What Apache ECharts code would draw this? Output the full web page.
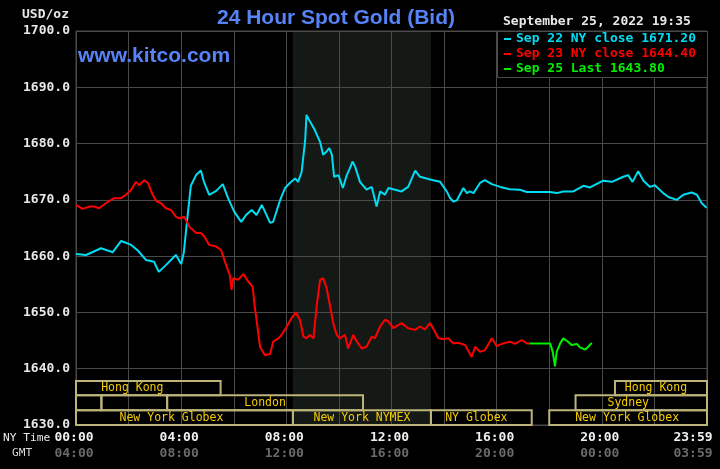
<!DOCTYPE html>
<html><head><meta charset="utf-8">
<script src="https://cdn.jsdelivr.net/npm/echarts@6/dist/echarts.min.js"></script>
<style>html,body{margin:0;padding:0;background:#000;}#c{width:720px;height:469px;}</style>
</head><body><div id="c"></div>
<script>
// ---------- DATA ----------
const seriesNames = ['Sep 22 NY close 1671.20', 'Sep 23 NY close 1644.40', 'Sep 25 Last 1643.80'];
// [minutes after 00:00 NY time, price]
const sep22Data = [[0,1660.4],[23,1660.2],[57,1661.4],[84,1660.7],[103,1662.7],[126,1662.0],[141,1661.0],[160,1659.3],[178,1659.0],[189,1657.2],[205,1658.4],[228,1660.2],[240,1658.6],[246,1660.6],[253,1665.9],[262,1672.5],[274,1674.4],[285,1675.2],[292,1673.2],[304,1670.9],[320,1671.6],[335,1672.8],[347,1670.3],[361,1667.9],[377,1666.1],[388,1667.3],[401,1668.2],[412,1667.3],[424,1669.1],[443,1665.9],[450,1666.1],[466,1670.0],[477,1672.1],[488,1673.0],[500,1673.8],[507,1673.2],[515,1675.0],[523,1680.6],[526,1685.1],[534,1683.9],[538,1684.2],[545,1682.4],[557,1680.3],[564,1678.0],[572,1678.6],[578,1679.2],[584,1678.0],[589,1674.1],[599,1674.4],[609,1672.1],[618,1674.4],[625,1675.6],[631,1676.8],[637,1675.9],[648,1673.2],[663,1671.8],[675,1672.3],[686,1668.8],[694,1671.5],[705,1670.9],[713,1672.1],[728,1671.8],[743,1671.5],[758,1672.3],[774,1675.2],[785,1674.1],[800,1673.8],[815,1673.5],[831,1673.2],[846,1671.5],[854,1670.3],[861,1669.7],[869,1669.9],[884,1672.1],[892,1671.2],[899,1671.5],[907,1671.2],[922,1673.0],[933,1673.5],[949,1672.8],[968,1672.3],[990,1671.9],[1013,1671.8],[1029,1671.4],[1082,1671.4],[1097,1671.2],[1112,1671.5],[1135,1671.5],[1158,1672.5],[1173,1672.2],[1203,1673.4],[1223,1673.2],[1249,1674.1],[1260,1674.4],[1270,1673.2],[1283,1675.1],[1295,1673.4],[1310,1672.3],[1321,1672.6],[1340,1671.2],[1352,1670.5],[1371,1670.0],[1386,1670.9],[1405,1671.3],[1417,1670.9],[1428,1669.4],[1439,1668.6]];
const sep23Data = [[0,1669.1],[15,1668.4],[30,1668.8],[42,1668.8],[53,1668.5],[68,1669.4],[87,1670.3],[103,1670.3],[114,1670.9],[126,1671.8],[137,1673.2],[144,1672.6],[156,1673.5],[164,1673.0],[175,1670.9],[183,1669.8],[194,1669.4],[205,1668.5],[217,1668.2],[228,1667.0],[236,1666.7],[247,1667.0],[259,1665.2],[274,1664.1],[285,1664.1],[293,1663.5],[304,1662.0],[320,1661.7],[331,1661.1],[344,1658.1],[351,1656.6],[355,1654.0],[359,1656.1],[370,1655.8],[382,1656.8],[393,1655.5],[403,1654.6],[408,1651.0],[414,1647.5],[420,1643.9],[431,1642.4],[443,1642.6],[450,1644.8],[462,1645.4],[469,1646.0],[481,1647.5],[492,1649.0],[502,1650.0],[511,1648.7],[519,1645.7],[526,1645.4],[534,1646.0],[542,1645.4],[549,1651.0],[557,1655.8],[564,1656.1],[572,1654.3],[580,1651.0],[587,1648.1],[595,1646.0],[602,1645.4],[614,1646.0],[621,1643.6],[633,1646.0],[641,1644.8],[652,1643.6],[663,1643.9],[675,1645.7],[682,1645.4],[694,1647.5],[705,1648.7],[713,1648.4],[724,1647.2],[743,1648.1],[758,1647.2],[774,1646.9],[785,1647.5],[796,1647.0],[808,1648.1],[815,1647.2],[827,1645.4],[838,1645.3],[850,1645.4],[861,1644.5],[872,1644.6],[888,1644.2],[903,1642.1],[911,1643.9],[922,1643.0],[933,1643.3],[949,1645.4],[960,1644.0],[975,1644.5],[990,1644.8],[1002,1644.4],[1017,1645.1],[1029,1644.5],[1035,1644.5]];
const sep25Data = [[1035,1644.5],[1082,1644.5],[1088,1643.0],[1093,1640.4],[1097,1643.0],[1105,1644.5],[1112,1645.4],[1123,1644.8],[1131,1644.2],[1143,1644.4],[1150,1643.8],[1162,1643.4],[1169,1643.9],[1177,1644.6]];

const tickMinutes = [0, 240, 480, 720, 960, 1200, 1440];
const nyTickLabels = ['00:00', '04:00', '08:00', '12:00', '16:00', '20:00', '23:59'];
const gmtTickLabels = ['04:00', '08:00', '12:00', '16:00', '20:00', '00:00', '03:59'];

// trading sessions (minutes, NY time); row 0 = top band
const sessionLabels = ['Hong Kong', 'Hong Kong', '', '', 'London', 'Sydney', 'New York Globex', 'New York NYMEX', 'NY Globex', 'New York Globex'];
const sessionRow    = [0, 0, 1, 1, 1, 1, 2, 2, 2, 2];
const sessionFrom   = [0, 1230, 0, 58, 208, 1140, 0, 495, 810, 1080];
const sessionTo     = [330, 1440, 58, 208, 655, 1440, 495, 810, 1040, 1440];
const rowTop    = [1637.8, 1635.3, 1632.6];
const rowBottom = [1635.3, 1632.6, 1630.0];
const pitFrom = 495, pitTo = 810; // NYMEX pit hours shading

const dateText = 'September 25, 2022 19:35';

// ---------- STYLE ----------
const colors = ['#00dcf2', '#ff0000', '#00f000'];
const labelDx = [-16, -5, 0, 0, 0, -13, -13, 0, -5, -1];
const mono = '"DejaVu Sans Mono", monospace';
const gridColor = '#4a4a4a';

const chart = echarts.init(document.getElementById('c'), null, {renderer: 'canvas'});

const sessionAreas = sessionLabels.map((lab, i) => [
  {xAxis: sessionFrom[i], yAxis: rowTop[sessionRow[i]], name: lab,
   label: {offset: [labelDx[i], 0]}},
  {xAxis: sessionTo[i], yAxis: rowBottom[sessionRow[i]]}
]);

const seriesData = [sep22Data, sep23Data, sep25Data];
const series = seriesData.map((d, i) => ({
  name: seriesNames[i], type: 'line', data: d, showSymbol: false, z: 4,
  animation: false, silent: true,
  lineStyle: {color: colors[i], width: 2},
  itemStyle: {color: colors[i]}
}));
series.push({
  name: 'pit', type: 'line', data: [], z: 1, silent: true, animation: false,
  markArea: {z: 1, silent: true, itemStyle: {color: '#151915', borderWidth: 0},
    label: {show: false}, data: [[{xAxis: pitFrom}, {xAxis: pitTo}]]}
});
series.push({
  name: 'sessions', type: 'line', data: [], z: 3, silent: true, animation: false,
  markArea: {z: 3, silent: true,
    itemStyle: {color: 'rgba(0,0,0,0)', borderColor: '#bdb47a', borderWidth: 2},
    label: {show: true, position: 'inside', color: '#f5cc00', fontFamily: mono, fontSize: 11.5},
    emphasis: {disabled: true},
    data: sessionAreas}
});

chart.setOption({
  backgroundColor: '#000',
  animation: false,
  grid: {left: 76, right: 13, top: 31, bottom: 44, show: true, borderColor: gridColor, borderWidth: 1,
         containLabel: false, outerBoundsMode: 'none'},
  legend: {
    data: seriesNames.map((n, i) => ({name: n, textStyle: {color: colors[i]}})),
    orient: 'vertical', left: 504, top: 32, padding: 0, itemGap: 1,
    icon: 'rect', itemWidth: 7, itemHeight: 2, selectedMode: false, z: 10,
    textStyle: {fontFamily: mono, fontSize: 13, fontWeight: 'bold', lineHeight: 14, padding: 0}
  },
  xAxis: {
    type: 'value', min: 0, max: 1440, interval: 120, z: 2,
    axisLine: {show: false}, axisTick: {show: false},
    splitLine: {show: true, lineStyle: {color: gridColor, width: 1}},
    axisLabel: {
      margin: 5, showMinLabel: true, showMaxLabel: true, hideOverlap: false,
      formatter: function (v) {
        const i = tickMinutes.indexOf(v);
        if (i < 0) return '';
        if (i === tickMinutes.length - 1) return '{nyL|' + nyTickLabels[i] + '}\n{gmtL|' + gmtTickLabels[i] + '}';
        return '{ny|' + nyTickLabels[i] + '}\n{gmt|' + gmtTickLabels[i] + '}';
      },
      rich: {
        ny: {color: '#f0f0f0', fontFamily: mono, fontSize: 13, fontWeight: 'bold', lineHeight: 16, padding: [0, 4, 0, 0]},
        gmt: {color: '#6a6a6a', fontFamily: mono, fontSize: 13, fontWeight: 'bold', lineHeight: 16, padding: [0, 4, 0, 0]},
        nyL: {color: '#f0f0f0', fontFamily: mono, fontSize: 13, fontWeight: 'bold', lineHeight: 16, padding: [0, 28, 0, 0]},
        gmtL: {color: '#6a6a6a', fontFamily: mono, fontSize: 13, fontWeight: 'bold', lineHeight: 16, padding: [0, 28, 0, 0]}
      }
    }
  },
  yAxis: {
    type: 'value', min: 1630, max: 1700, interval: 10, z: 2,
    axisLine: {show: false}, axisTick: {show: false},
    splitLine: {show: true, lineStyle: {color: gridColor, width: 1}},
    axisLabel: {margin: 6, color: '#e8e8e8', fontFamily: mono, fontSize: 13, fontWeight: 'bold',
      formatter: v => v.toFixed(1)}
  },
  graphic: [
    {type: 'rect', z: 8, shape: {x: 497.5, y: 31.5, width: 210, height: 46},
     style: {fill: '#000', stroke: gridColor, lineWidth: 1}},
    {type: 'text', z: 10, style: {x: 336, y: 18, text: '24 Hour Spot Gold (Bid)', fill: '#5683f7',
      font: 'bold 21px "Liberation Sans", Arial, sans-serif', align: 'center', verticalAlign: 'middle'}},
    {type: 'text', z: 10, style: {x: 78, y: 56, text: 'www.kitco.com', fill: '#5683f7',
      font: 'bold 21px "Liberation Sans", Arial, sans-serif', align: 'left', verticalAlign: 'middle'}},
    {type: 'text', z: 10, style: {x: 22, y: 15, text: 'USD/oz', fill: '#e8e8e8',
      font: 'bold 13px ' + mono, align: 'left', verticalAlign: 'middle'}},
    {type: 'text', z: 10, style: {x: 503, y: 22, text: dateText, fill: '#e8e8e8',
      font: 'bold 13px ' + mono, align: 'left', verticalAlign: 'middle'}},
    {type: 'text', z: 10, style: {x: 3, y: 438, text: 'NY Time', fill: '#e8e8e8',
      font: '11.2px ' + mono, align: 'left', verticalAlign: 'middle'}},
    {type: 'text', z: 10, style: {x: 12, y: 453, text: 'GMT', fill: '#d8d8d8',
      font: '11.2px ' + mono, align: 'left', verticalAlign: 'middle'}}
  ],
  series: series
});
</script></body></html>
